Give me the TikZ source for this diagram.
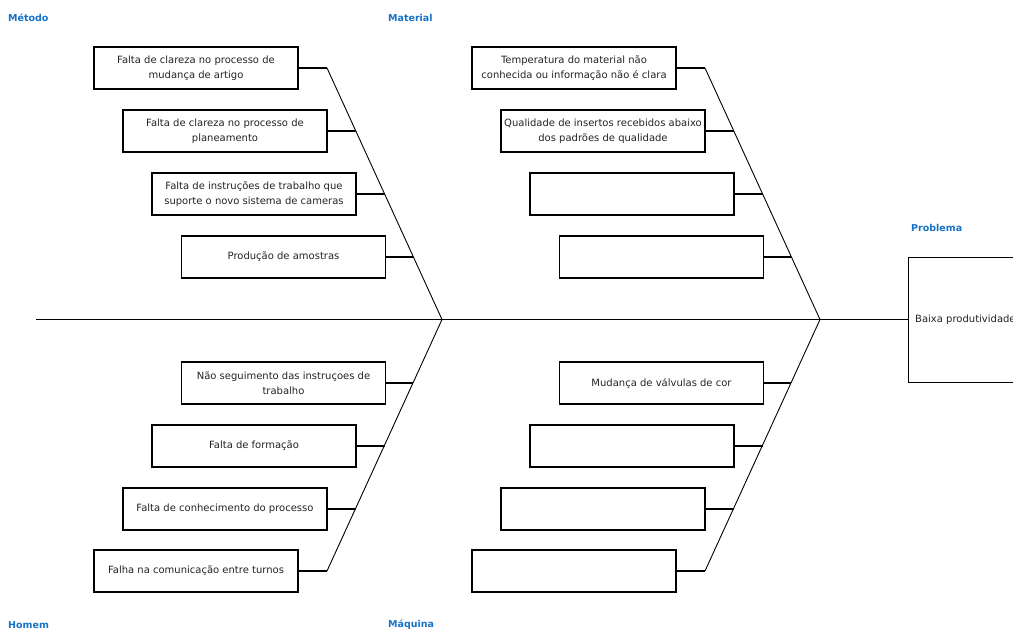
\documentclass[tikz,border=0pt]{standalone}
\usepackage{fontspec}
\setmainfont{DejaVu Sans}
\definecolor{catblue}{RGB}{22,114,198}
\definecolor{txtgray}{RGB}{35,35,35}
\begin{document}
\begin{tikzpicture}[x=1pt,y=-1pt,
  cause/.style={draw=black,line width=1.3pt,minimum width=204pt,minimum height=42pt,
    inner sep=2pt,align=center,font=\fontsize{10}{14.5}\selectfont,text=txtgray},
  cat/.style={anchor=west,inner sep=0pt,font=\fontsize{9.5}{11}\selectfont\bfseries,text=catblue},
  bone/.style={line width=0.9pt},
  twig/.style={line width=1.1pt}]
\useasboundingbox (0,0) rectangle (1013,632);
\clip (0,0) rectangle (1013,632);
% category labels
\node[cat] (lmet) at (8,18) {Método};
\node[cat] (lmat) at (388,18) {Material};
\node[cat] (lhom) at (8,625) {Homem};
\node[cat] (lmaq) at (388,625) {Máquina};
\node[cat] (lpro) at (911,228) {Problema};
% problem box
\node[draw=black,line width=1.3pt,anchor=north west,minimum width=140pt,minimum height=125pt,inner sep=0pt] (prob) at (908,257) {};
\node[anchor=west,inner sep=0pt,font=\fontsize{10}{12}\selectfont,text=txtgray] (probtxt) at (915,320) {Baixa produtividade};
% spine and bones
\coordinate (s0) at (36,319.5);
\coordinate (j1) at (442,319.5);
\coordinate (j2) at (820,319.5);
\coordinate (ul) at (327,68);
\coordinate (ll) at (327,571);
\coordinate (ur) at (705,68);
\coordinate (lr) at (705,571);
\draw[bone] (s0) -- (j1) -- (j2) -- (j2 -| prob.west);
\draw[bone] (ul) -- (j1) -- (ll);
\draw[bone] (ur) -- (j2) -- (lr);
% points on the bones
\coordinate (pa1) at (327,68);   \coordinate (pa2) at (355.8,131);
\coordinate (pa3) at (384.5,194); \coordinate (pa4) at (413.2,257);
\coordinate (pb1) at (413.2,383); \coordinate (pb2) at (384.5,446);
\coordinate (pb3) at (356,509);   \coordinate (pb4) at (327,571);
\coordinate (pc1) at (705,68);   \coordinate (pc2) at (733.8,131);
\coordinate (pc3) at (762.5,194); \coordinate (pc4) at (791.2,257);
\coordinate (pd1) at (791.2,383); \coordinate (pd2) at (762.5,446);
\coordinate (pd3) at (734,509);   \coordinate (pd4) at (705,571);
% Método
\node[cause] (a1) at (196,68) {Falta de clareza no processo de\\mudança de artigo};
\node[cause] (a2) at (225,131) {Falta de clareza no processo de\\planeamento};
\node[cause] (a3) at (254,194) {Falta de instruções de trabalho que\\suporte o novo sistema de cameras};
\node[cause] (a4) at (283.5,257) {Produção de amostras};
% Homem
\node[cause] (b1) at (283.5,383) {Não seguimento das instruçoes de\\trabalho};
\node[cause] (b2) at (254,446) {Falta de formação};
\node[cause] (b3) at (225,509) {Falta de conhecimento do processo};
\node[cause] (b4) at (196,571) {Falha na comunicação entre turnos};
% Material
\node[cause] (c1) at (574,68) {Temperatura do material não\\conhecida ou informação não é clara};
\node[cause] (c2) at (603,131) {Qualidade de insertos recebidos abaixo\\dos padrões de qualidade};
\node[cause] (c3) at (632,194) {};
\node[cause] (c4) at (661.5,257) {};
% Máquina
\node[cause] (d1) at (661.5,383) {Mudança de válvulas de cor};
\node[cause] (d2) at (632,446) {};
\node[cause] (d3) at (603,509) {};
\node[cause] (d4) at (574,571) {};
% twigs
\foreach \k in {a,b,c,d}{
  \foreach \i in {1,2,3,4}{
    \draw[twig] (\k\i.east) -- (p\k\i);
  }
}
\end{tikzpicture}
\end{document}
